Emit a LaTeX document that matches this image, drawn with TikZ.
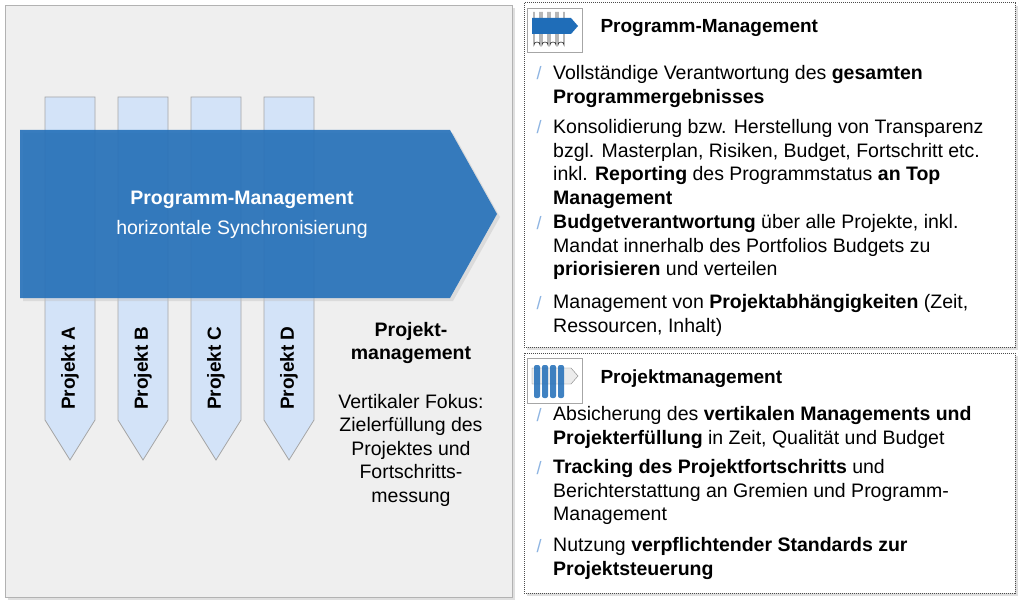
\documentclass[tikz,border=0pt]{standalone}
\usepackage{fontspec}
\setmainfont{Liberation Sans}
\definecolor{pmblue}{HTML}{1F6DB8}
\definecolor{colfill}{HTML}{D3E3F8}
\definecolor{panelgray}{HTML}{EFEFEF}
\definecolor{slash}{HTML}{8DB4E2}
\begin{document}
\begin{tikzpicture}[x=1pt,y=-1pt,
  col/.style={fill=colfill,draw=gray!70,line width=0.8pt},
  panel/.style={draw=black!70,densely dotted,line width=1pt,fill=white},
  ttl/.style={anchor=base west,font=\fontsize{19}{22}\selectfont\bfseries},
  item/.style={anchor=north west,inner sep=0pt,align=left,font=\fontsize{19.5}{23.5}\selectfont},
  sl/.style={anchor=base west,text=slash,font=\fontsize{18}{19}\selectfont}]
\useasboundingbox (0,0) rectangle (1024,604);
% left panel
\fill[gray!25] (8,8) rectangle (515,600);
\draw[fill=panelgray,draw=gray!60] (5,5) rectangle (512,597);
% columns
\foreach \x/\l [count=\i] in {45/A,118/B,191/C,264/D}{
  \draw[col] (\x,97) -- (\x+50,97) -- (\x+50,420) -- (\x+25,460) -- (\x,420) -- cycle;
  \node[rotate=90,font=\fontsize{19}{22}\selectfont\bfseries] (p\i) at (\x+25,368) {Projekt \l};
}
% big arrow
\fill[gray!50,opacity=0.4] (23,133) -- (453,133) -- (500,217) -- (453,301) -- (23,301) -- cycle;
\fill[pmblue,opacity=0.88] (20,130) -- (450,130) -- (497,214) -- (450,298) -- (20,298) -- cycle;
\node[text=white,align=center,font=\fontsize{19.5}{30}\selectfont] (pm) at (242,215)
  {\textbf{Programm-Management}\\horizontale Synchronisierung};
\node[align=center,font=\fontsize{19.5}{23.5}\selectfont] (pj) at (411,343) {\textbf{Projekt-}\\\textbf{management}};
\node[align=center,font=\fontsize{19.5}{23.5}\selectfont] (vf) at (411,450) {Vertikaler Fokus:\\Zielerfüllung des\\Projektes und\\Fortschritts-\\messung};
% right panels
\fill[gray!25] (527,6) rectangle (1018,350);
\draw[panel] (524,3) rectangle (1015,347);
\fill[gray!25] (527,356) rectangle (1018,596);
\draw[panel] (524,353) rectangle (1015,593);
% icon 1
\draw[gray!70,fill=white] (527,8) rectangle (582,52);
\foreach \x in {534,542,550,558}{
  \draw[black!80,line width=0.6pt] (\x,12) -- (\x,45) arc(180:360:3) -- (\x+6,12);}
\fill[pmblue] (532,18) -- (571,18) -- (578,26) -- (571,34) -- (532,34) -- cycle;
% icon 2
\draw[gray!70,fill=white] (527,358) rectangle (582,403);
\fill[white!85!gray,draw=gray] (532,368) -- (571,368) -- (578,376) -- (571,384) -- (532,384) -- cycle;
\foreach \x in {534,542,550,558}{
  \fill[pmblue,opacity=0.85,rounded corners=2pt] (\x,365) rectangle (\x+6,398);}
% titles
\node[ttl] (t1) at (597,33) {Programm-Management};
\node[ttl] (t2) at (597,383) {Projektmanagement};
% bullets top
\foreach \y in {80,134,229,309}{\node[sl] at (533,\y) {/};}
\node[item] (b1) at (553,65.5) {Vollständige Verantwortung des \textbf{gesamten}\\\textbf{Programmergebnisses}};
\node[item] (b2) at (553,119.5) {Konsolidierung bzw. Herstellung von Transparenz\\bzgl. Masterplan, Risiken, Budget, Fortschritt etc.\\inkl. \textbf{Reporting} des Programmstatus \textbf{an Top}\\\textbf{Management}};
\node[item] (b3) at (553,214.5) {\textbf{Budgetverantwortung} über alle Projekte, inkl.\\Mandat innerhalb des Portfolios Budgets zu\\\textbf{priorisieren} und verteilen};
\node[item] (b4) at (553,294.5) {Management von \textbf{Projektabhängigkeiten} (Zeit,\\Ressourcen, Inhalt)};
% bullets bottom
\foreach \y in {421,474,552}{\node[sl] at (533,\y) {/};}
\node[item] (c1) at (553,406.5) {Absicherung des \textbf{vertikalen Managements und}\\\textbf{Projekterfüllung} in Zeit, Qualität und Budget};
\node[item] (c2) at (553,459.5) {\textbf{Tracking des Projektfortschritts} und\\Berichterstattung an Gremien und Programm-\\Management};
\node[item] (c3) at (553,537.5) {Nutzung \textbf{verpflichtender Standards zur}\\\textbf{Projektsteuerung}};
\end{tikzpicture}
\end{document}
